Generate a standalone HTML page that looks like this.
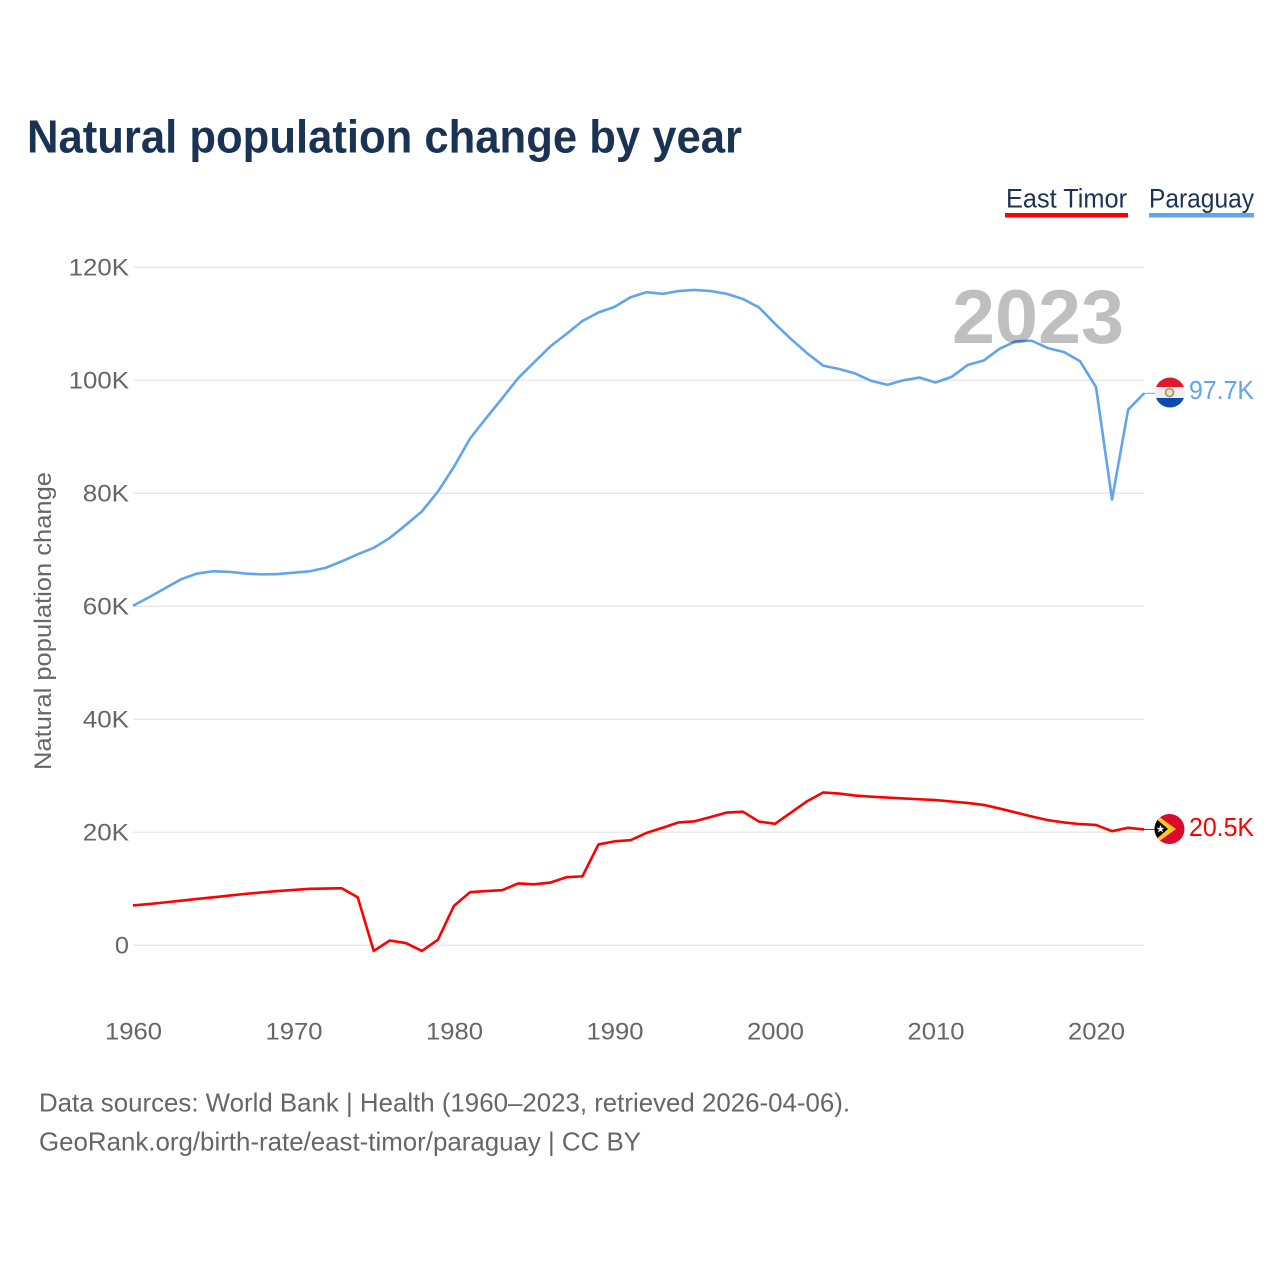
<!DOCTYPE html>
<html lang="en">
<head>
<meta charset="utf-8">
<title>Natural population change by year</title>
<style>
  html, body { margin: 0; padding: 0; background: #ffffff; }
  svg { display: block; }
  text { font-family: "Liberation Sans", sans-serif; }
</style>
</head>
<body>
<svg id="chart" xmlns="http://www.w3.org/2000/svg" width="1280" height="1280" viewBox="0 0 1280 1280">
  <defs>
    <clipPath id="flag-clip-py"><circle cx="1170" cy="392.5" r="15"></circle></clipPath>
    <clipPath id="flag-clip-tl"><circle cx="1169.5" cy="829" r="15"></circle></clipPath>
  </defs>

  <rect x="0" y="0" width="1280" height="1280" fill="#ffffff"></rect>

  <text x="27" y="152.5" font-size="46" font-weight="700" fill="#1a3354" textLength="715" lengthAdjust="spacingAndGlyphs">Natural population change by year</text>

  <g>
    <g>
      <text x="1006" y="207.5" font-size="27" fill="#1a3354" textLength="121" lengthAdjust="spacingAndGlyphs">East Timor</text>
      <rect x="1005" y="213" width="123" height="4.5" fill="#ff0000"></rect>
    </g>
    <g>
      <text x="1149" y="207.5" font-size="27" fill="#1a3354" textLength="105" lengthAdjust="spacingAndGlyphs">Paraguay</text>
      <rect x="1149" y="213" width="105" height="4.5" fill="#60a5ec"></rect>
    </g>
  </g>

  <g id="grid"></g>
  <g id="y-ticks"></g>
  <g id="x-ticks"></g>

  <text transform="translate(51,770) rotate(-90)" font-size="24" fill="#666666" textLength="298" lengthAdjust="spacingAndGlyphs">Natural population change</text>

  <polyline id="line-paraguay" fill="none" stroke="#60a5ec" stroke-width="2.6" stroke-linejoin="round"></polyline>
  <polyline id="line-east-timor" fill="none" stroke="#ff0000" stroke-width="2.6" stroke-linejoin="round"></polyline>

  <line id="conn-paraguay" stroke="#60a5ec" stroke-width="1"></line>
  <line id="conn-east-timor" stroke="#ff0000" stroke-width="1"></line>

  <text x="952" y="343" font-size="76" font-weight="700" fill="rgba(0,0,0,0.25)" textLength="172" lengthAdjust="spacingAndGlyphs">2023</text>

  <g clip-path="url(#flag-clip-py)">
    <rect x="1154" y="376" width="32" height="11" fill="#dc1c2e"></rect>
    <rect x="1154" y="387" width="32" height="11" fill="#eeeeee"></rect>
    <rect x="1154" y="398" width="32" height="11" fill="#0a4bb0"></rect>
    <circle cx="1169.5" cy="392.5" r="4" fill="#f3dcc8" stroke="#8f9f62" stroke-width="1.6"></circle>
  </g>

  <g clip-path="url(#flag-clip-tl)">
    <rect x="1154" y="813" width="32" height="32" fill="#dc0a2d"></rect>
    <polygon points="1154,813 1176,829 1154,845" fill="#ffc726"></polygon>
    <polygon points="1154,817 1168,829 1154,841" fill="#000000"></polygon>
    <polygon points="1160.5,825 1161.5,827.8 1164.5,827.8 1162.1,829.6 1163,832.5 1160.5,830.8 1158,832.5 1158.9,829.6 1156.5,827.8 1159.5,827.8" fill="#ffffff"></polygon>
  </g>

  <text id="value-paraguay" x="1189" y="399" font-size="26" fill="#60a5ec" textLength="65" lengthAdjust="spacingAndGlyphs">97.7K</text>
  <text id="value-east-timor" x="1189" y="836" font-size="26" fill="#ff0000" textLength="65" lengthAdjust="spacingAndGlyphs">20.5K</text>

  <text x="39" y="1111.5" font-size="26" fill="#666666" textLength="811" lengthAdjust="spacingAndGlyphs">Data sources: World Bank | Health (1960–2023, retrieved 2026-04-06).</text>
  <text x="39" y="1150.5" font-size="26" fill="#666666" textLength="602" lengthAdjust="spacingAndGlyphs">GeoRank.org/birth-rate/east-timor/paraguay | CC BY</text>
</svg>

<script>
const firstYear = 1960;
const yTickValues = [0, 20000, 40000, 60000, 80000, 100000, 120000];
const yTickLabels = ["0", "20K", "40K", "60K", "80K", "100K", "120K"];
const xTickYears = [1960, 1970, 1980, 1990, 2000, 2010, 2020];
const paraguayValues = [
  60100, 61600, 63200, 64800, 65800, 66200, 66100, 65800, 65650, 65700,
  65950, 66200, 66800, 67950, 69200, 70350, 72100, 74400, 76800, 80300,
  84700, 89700, 93300, 96800, 100400, 103200, 106000, 108200, 110500, 112000,
  113000, 114700, 115600, 115300, 115800, 116000, 115800, 115300, 114400, 112900,
  110000, 107300, 104800, 102600, 102000, 101200, 99900, 99200, 100000, 100500,
  99600, 100600, 102700, 103500, 105600, 106900, 107000, 105700, 105000, 103400,
  98800, 78900, 94800, 97700
];
const eastTimorValues = [
  7050, 7300, 7600, 7900, 8200, 8500, 8800, 9100, 9350, 9600,
  9800, 10000, 10050, 10100, 8500, -1000, 850, 400, -1000, 1000,
  7000, 9400, 9600, 9750, 10950, 10800, 11100, 12050, 12200, 17850,
  18400, 18600, 19900, 20800, 21750, 21950, 22700, 23500, 23650, 21900,
  21500, 23500, 25500, 27050, 26850, 26500, 26300, 26150, 26000, 25850,
  25700, 25450, 25200, 24850, 24200, 23500, 22800, 22150, 21750, 21450,
  21300, 20200, 20800, 20500
];

const SVG_NS = "http://www.w3.org/2000/svg";

function xScale(year) {
  return 133 + (year - 1960) * 16.05;
}
function yScale(value) {
  return 945.3 - value * 0.00565;
}
function labelWidth(label) {
  let width = 0;
  for (const ch of label) {
    width += ch === "K" ? 18 : 14.1;
  }
  return width;
}
function pointsFor(values) {
  return values.map(function (v, i) {
    return xScale(firstYear + i).toFixed(2) + "," + yScale(v).toFixed(2);
  }).join(" ");
}

const grid = document.getElementById("grid");
const yTicks = document.getElementById("y-ticks");
const xTicks = document.getElementById("x-ticks");

yTickValues.forEach(function (value, i) {
  const gridLine = document.createElementNS(SVG_NS, "line");
  
  
  gridLine.setAttribute("x1", xScale(1960));
  gridLine.setAttribute("x2", xScale(2023));
  gridLine.setAttribute("y1", yScale(value));
  gridLine.setAttribute("y2", yScale(value));
  gridLine.setAttribute("stroke", "#e9e9e9");
  gridLine.setAttribute("stroke-width", "1.5");
  grid.appendChild(gridLine);

  const label = document.createElementNS(SVG_NS, "text");
  
  
  label.setAttribute("x", 129 - labelWidth(yTickLabels[i]));
  label.setAttribute("y", yScale(value) + 8);
  label.setAttribute("font-size", "24");
  label.setAttribute("fill", "#666666");
  label.setAttribute("textLength", labelWidth(yTickLabels[i]));
  label.setAttribute("lengthAdjust", "spacingAndGlyphs");
  label.textContent = yTickLabels[i];
  yTicks.appendChild(label);
});

xTickYears.forEach(function (year) {
  const label = document.createElementNS(SVG_NS, "text");
  
  
  label.setAttribute("x", xScale(year) - 28);
  label.setAttribute("y", 1039.5);
  label.setAttribute("font-size", "24");
  label.setAttribute("fill", "#666666");
  label.setAttribute("textLength", "57");
  label.setAttribute("lengthAdjust", "spacingAndGlyphs");
  label.textContent = String(year);
  xTicks.appendChild(label);
});

document.getElementById("line-paraguay").setAttribute("points", pointsFor(paraguayValues));
document.getElementById("line-east-timor").setAttribute("points", pointsFor(eastTimorValues));

function placeConnector(id, values) {
  const y = yScale(values[values.length - 1]);
  const connector = document.getElementById(id);
  connector.setAttribute("x1", xScale(2023));
  connector.setAttribute("x2", 1155);
  connector.setAttribute("y1", y);
  connector.setAttribute("y2", y);
}
placeConnector("conn-paraguay", paraguayValues);
placeConnector("conn-east-timor", eastTimorValues);
</script>
</body>
</html>
